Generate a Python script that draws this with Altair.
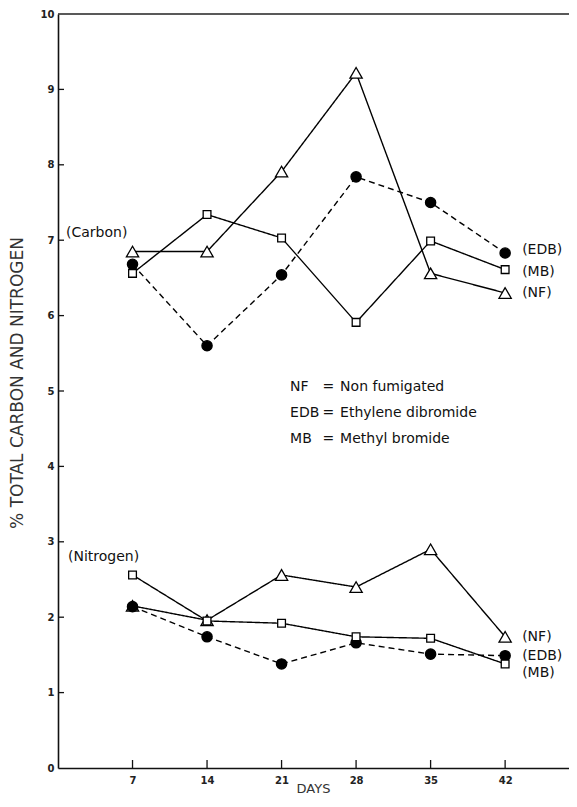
import altair as alt
import pandas as pd

# ---- data ----
days = [7, 14, 21, 28, 35, 42]
treatments = ["NF", "EDB", "MB"]
carbon_nf = [6.85, 6.85, 7.91, 9.22, 6.56, 6.30]
carbon_edb = [6.68, 5.60, 6.54, 7.84, 7.50, 6.83]
carbon_mb = [6.56, 7.34, 7.03, 5.91, 6.99, 6.61]
nitrogen_nf = [2.15, 1.96, 2.56, 2.40, 2.90, 1.74]
nitrogen_edb = [2.14, 1.74, 1.38, 1.66, 1.51, 1.49]
nitrogen_mb = [2.56, 1.95, 1.92, 1.74, 1.72, 1.38]

y_ticks = [0, 1, 2, 3, 4, 5, 6, 7, 8, 9, 10]
x_ticks = days

legend_abbr = ["NF", "EDB", "MB"]
legend_desc = ["Non fumigated", "Ethylene dibromide", "Methyl bromide"]
legend_y = [5.05, 4.71, 4.37]

carbon_label_y = [6.30, 6.87, 6.58]      # NF, EDB, MB
nitrogen_label_y = [1.74, 1.49, 1.26]    # NF, EDB, MB

W, H = 511, 754
FONT = "DejaVu Sans"

series = {
    ("Carbon", "NF"): carbon_nf,
    ("Carbon", "EDB"): carbon_edb,
    ("Carbon", "MB"): carbon_mb,
    ("Nitrogen", "NF"): nitrogen_nf,
    ("Nitrogen", "EDB"): nitrogen_edb,
    ("Nitrogen", "MB"): nitrogen_mb,
}
rows = []
for (elem, trt), vals in series.items():
    for d, v in zip(days, vals):
        rows.append({"day": d, "value": v, "element": elem, "treatment": trt,
                     "key": elem + "-" + trt})
df = pd.DataFrame(rows)

xscale = alt.Scale(domain=[0, 48], nice=False, zero=False)
yscale = alt.Scale(domain=[0, 10], nice=False)

X = alt.X("day:Q", scale=xscale,
          axis=alt.Axis(values=x_ticks, ticks=False, grid=False, title=None,
                        format="d",
                        domainColor="#111", domainWidth=1.6,
                        labelFont=FONT, labelFontSize=10, labelFontWeight="bold",
                        labelColor="#222", labelPadding=7))
Y = alt.Y("value:Q", scale=yscale,
          axis=alt.Axis(values=y_ticks, ticks=False, grid=False, title=None,
                        format="d",
                        domainColor="#111", domainWidth=1.6,
                        labelFont=FONT, labelFontSize=10, labelFontWeight="bold",
                        labelColor="#222", labelPadding=4))

lines = alt.Chart(df).mark_line(color="black", strokeWidth=1.4).encode(
    x=X, y=Y, detail="key:N",
    strokeDash=alt.StrokeDash("treatment:N",
                              scale=alt.Scale(domain=treatments,
                                              range=[[1, 0], [6, 4], [1, 0]]),
                              legend=None),
)

points = alt.Chart(df).mark_point(filled=True, stroke="black", strokeWidth=1.3,
                                  opacity=1).encode(
    x="day:Q", y="value:Q",
    shape=alt.Shape("treatment:N",
                    scale=alt.Scale(domain=treatments,
                                    range=["triangle-up", "circle", "square"]),
                    legend=None),
    fill=alt.Fill("treatment:N",
                  scale=alt.Scale(domain=treatments,
                                  range=["white", "black", "white"]),
                  legend=None),
    size=alt.Size("treatment:N",
                  scale=alt.Scale(domain=treatments, range=[150, 60, 100]),
                  legend=None),
)

# inward tick marks
ytick_df = pd.DataFrame({"value": y_ticks[1:-1]})
yticks = alt.Chart(ytick_df).mark_rule(color="#111", strokeWidth=1.3).encode(
    y="value:Q", x=alt.value(0), x2=alt.value(6))
xtick_df = pd.DataFrame({"day": x_ticks})
xticks = alt.Chart(xtick_df).mark_rule(color="#111", strokeWidth=1.3).encode(
    x="day:Q", y=alt.value(H), y2=alt.value(H - 8))

top_line = alt.Chart(pd.DataFrame({"v": [10]})).mark_rule(
    color="#222", strokeWidth=1.6).encode(
    y="v:Q", x=alt.value(0), x2=alt.value(W))

# annotations
ann_df = pd.DataFrame({"day": [0.75, 0.94], "value": [7.10, 2.80],
                       "text": ["(Carbon)", "(Nitrogen)"]})
ann = alt.Chart(ann_df).mark_text(align="left", baseline="middle", font=FONT,
                                  fontSize=14, color="#111").encode(
    x="day:Q", y="value:Q", text="text:N")

right_df = pd.DataFrame({
    "day": [43.6] * 6,
    "value": carbon_label_y + nitrogen_label_y,
    "text": ["(" + t + ")" for t in treatments] * 2,
})
right = alt.Chart(right_df).mark_text(align="left", baseline="middle", font=FONT,
                                      fontSize=14, color="#111").encode(
    x="day:Q", y="value:Q", text="text:N")

leg_abbr = alt.Chart(pd.DataFrame({"day": [21.8] * 3, "value": legend_y,
                                   "text": legend_abbr})).mark_text(
    align="left", baseline="middle", font=FONT, fontSize=14, color="#111").encode(
    x="day:Q", y="value:Q", text="text:N")
leg_eq = alt.Chart(pd.DataFrame({"day": [25.4] * 3, "value": legend_y,
                                 "text": ["="] * 3})).mark_text(
    align="center", baseline="middle", font=FONT, fontSize=14, color="#111").encode(
    x="day:Q", y="value:Q", text="text:N")
leg_desc = alt.Chart(pd.DataFrame({"day": [26.5] * 3, "value": legend_y,
                                   "text": legend_desc})).mark_text(
    align="left", baseline="middle", font=FONT, fontSize=14, color="#111").encode(
    x="day:Q", y="value:Q", text="text:N")

ytitle = alt.Chart(pd.DataFrame({"t": ["% TOTAL CARBON AND NITROGEN"]})).mark_text(
    angle=270, align="center", baseline="middle", font=FONT, fontSize=17,
    color="#333").encode(x=alt.value(-40), y=alt.value(H / 2 - 8), text="t:N")

xtitle = alt.Chart(pd.DataFrame({"t": ["DAYS"]})).mark_text(
    align="center", baseline="bottom", font=FONT, fontSize=13,
    color="#333").encode(x=alt.value(W / 2), y=alt.value(H + 28), text="t:N")

chart = alt.layer(
    top_line, yticks, xticks, lines, points, ann, right,
    leg_abbr, leg_eq, leg_desc, ytitle, xtitle
).properties(
    width=W, height=H,
    autosize=alt.AutoSizeParams(type="none"),
    padding={"left": 50, "top": 6, "right": 0, "bottom": 28},
    background="white",
).configure_view(stroke=None)

chart.save("out.html", embed_options={"renderer": "svg", "actions": False})
